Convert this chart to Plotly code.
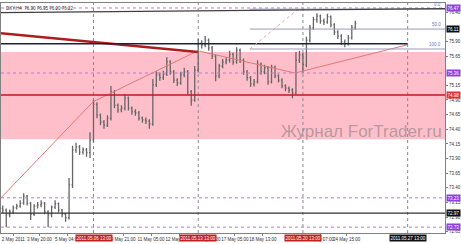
import plotly.graph_objects as go

# ---------------- data (DXY, H4, May 2011) ----------------
first_open = 73.05
close = [73.02, 72.94, 72.99, 73.06, 73.09, 73.14, 73.26, 73.14, 72.95, 73.09,
         73.11, 73.14, 72.99, 72.94, 73.07, 73.13, 73.02, 72.95, 72.89, 73.45,
         74.05, 74.10, 74.01, 74.05, 74.00, 74.22, 74.83, 74.64, 74.52, 74.47,
         74.59, 75.04, 74.81, 74.73, 74.76, 74.93, 74.76, 74.70, 74.68, 74.59,
         74.56, 74.54, 74.49, 75.16, 75.33, 75.28, 75.34, 75.55, 75.38, 75.24,
         75.19, 75.33, 75.38, 75.04, 74.90, 75.41, 75.87, 75.84, 75.92, 75.79,
         75.65, 75.31, 75.48, 75.55, 75.58, 75.68, 75.55, 75.75, 75.58, 75.38,
         75.28, 75.17, 75.21, 75.51, 75.38, 75.45, 75.21, 75.46, 75.31, 75.24,
         75.14, 75.10, 75.07, 75.02, 75.58, 75.67, 75.50, 75.92, 76.13, 76.27,
         76.33, 76.25, 76.23, 76.32, 76.18, 76.06, 75.99, 75.89, 75.86, 75.96,
         76.13, 76.21]
high = [73.10, 73.05, 73.03, 73.10, 73.13, 73.19, 73.31, 73.28, 73.16, 73.12,
        73.16, 73.19, 73.16, 73.02, 73.10, 73.19, 73.15, 73.04, 72.97, 73.57,
        74.12, 74.17, 74.13, 74.09, 74.08, 74.35, 74.90, 74.86, 74.67, 74.56,
        74.64, 75.14, 75.07, 74.84, 74.81, 75.00, 74.96, 74.79, 74.74, 74.71,
        74.62, 74.60, 74.57, 75.26, 75.39, 75.37, 75.40, 75.63, 75.58, 75.41,
        75.27, 75.38, 75.45, 75.41, 75.07, 75.48, 75.94, 75.92, 75.99, 75.95,
        75.82, 75.68, 75.52, 75.60, 75.63, 75.74, 75.71, 75.80, 75.78, 75.61,
        75.41, 75.31, 75.26, 75.58, 75.54, 75.50, 75.48, 75.50, 75.49, 75.34,
        75.27, 75.17, 75.13, 75.10, 75.72, 75.74, 75.70, 75.98, 76.18, 76.32,
        76.38, 76.36, 76.29, 76.37, 76.34, 76.21, 76.09, 76.02, 75.93, 76.01,
        76.18, 76.25]
low = [72.97, 72.73, 72.90, 72.96, 73.03, 73.06, 73.11, 73.10, 72.85, 72.92,
       73.05, 73.07, 72.95, 72.73, 72.90, 73.04, 72.98, 72.90, 72.82, 72.86,
       73.40, 74.00, 73.96, 73.97, 73.93, 73.91, 74.18, 74.59, 74.47, 74.41,
       74.44, 74.55, 74.76, 74.68, 74.69, 74.72, 74.72, 74.65, 74.63, 74.55,
       74.51, 74.49, 74.41, 74.46, 75.12, 75.23, 75.24, 75.31, 75.33, 75.19,
       75.14, 75.16, 75.29, 74.99, 74.80, 74.87, 75.37, 75.78, 75.80, 75.74,
       75.60, 75.22, 75.27, 75.44, 75.51, 75.54, 75.50, 75.52, 75.53, 75.33,
       75.23, 75.12, 75.13, 75.18, 75.33, 75.34, 75.16, 75.18, 75.27, 75.20,
       75.10, 75.05, 75.02, 74.93, 74.99, 75.53, 75.36, 75.46, 75.88, 76.10,
       76.22, 76.20, 76.18, 76.20, 76.14, 76.01, 75.94, 75.84, 75.80, 75.83,
       75.93, 76.10]
open_ = [first_open] + close[:-1]
bars = list(range(len(close)))

# price levels / objects
zone_top, zone_bottom = 75.72, 74.23
red_level = 74.985
dark_levels = [75.86, 72.97]
violet_levels = [76.47, 75.36, 73.23, 72.73]
red_trend_t = [-0.5, 55.9]
red_trend_p = [76.04, 75.72]
zigzag_t = [-0.5, 25.9, 55.9, 83.7, 115.8]
zigzag_p = [73.23, 74.87, 75.74, 75.36, 75.84]
top_trend_t = [-0.5, 126.7]
top_trend_p = [76.39, 76.46]
fib_t = [70.8, 84.6]
fib_p = [75.77, 76.45]
fib_names = ["0.0", "50.0", "100.0"]
fib_ratios = [0.0, 0.5, 1.0]
separators = [26, 56, 86, 116]
separator_labels = ["2011.05.06 13:00", "2011.05.13 13:00", "2011.05.20 13:00", "2011.05.27 13:00"]
time_ticks = [3.0, 10.5, 18.5, 34.5, 42.5, 50.5, 58.5, 66.5, 74.5, 91.0, 98.5]
time_labels = ["2 May 2011", "3 May 20:00", "5 May 04:00", "9 May 21:00", "11 May 05:00",
               "12 May 13:00", "13 May 21:00", "17 May 05:00", "18 May 13:00",
               "23 May 07:00", "24 May 15:00"]
price_ticks = [76.40, 75.90, 75.65, 75.15, 74.90, 74.65, 74.40,
               74.15, 73.90, 73.65, 73.40, 73.15, 72.90, 72.65]
x_range = [-0.5, 126.7]
y_range = [72.63, 76.555]

FONT = "Liberation Sans"
GRAY = "#666666"

fig = go.Figure()
fig.add_trace(go.Ohlc(
    x=bars, open=open_, high=high, low=low, close=close,
    increasing=dict(line=dict(color=GRAY, width=1.3)),
    decreasing=dict(line=dict(color=GRAY, width=1.3)),
    tickwidth=0.3, showlegend=False, hoverinfo="skip"))

shapes = []
# pink zone
shapes.append(dict(type="rect", xref="paper", x0=0, x1=1, yref="y", y0=zone_bottom, y1=zone_top,
                   fillcolor="#ffbfca", line=dict(width=0), layer="below"))
# separators
for s in separators:
    shapes.append(dict(type="line", xref="x", x0=s, x1=s, yref="paper", y0=0, y1=1,
                       line=dict(color="#8a8a8a", width=1, dash="dot"), layer="below"))
# violet dotted levels
for v in violet_levels:
    shapes.append(dict(type="line", xref="paper", x0=0, x1=1, yref="y", y0=v, y1=v,
                       line=dict(color="#b878e0", width=1, dash="dot"), layer="above"))
# dark levels
shapes.append(dict(type="line", xref="x", x0=x_range[0], x1=separators[3], yref="y",
                   y0=dark_levels[0], y1=dark_levels[0], line=dict(color="#20203a", width=1.5)))
shapes.append(dict(type="line", xref="paper", x0=0, x1=1, yref="y",
                   y0=dark_levels[1], y1=dark_levels[1], line=dict(color="#303030", width=1.2)))
# red level
shapes.append(dict(type="line", xref="paper", x0=0, x1=1, yref="y", y0=red_level, y1=red_level,
                   line=dict(color="#c01818", width=1.5)))
# fibonacci levels
for r in fib_ratios:
    lv = fib_p[1] - r * (fib_p[1] - fib_p[0])
    shapes.append(dict(type="line", xref="x", x0=fib_t[0], x1=x_range[1], yref="y", y0=lv, y1=lv,
                       line=dict(color="#9a9ab8", width=1)))
shapes.append(dict(type="line", xref="x", x0=fib_t[0], x1=fib_t[1], yref="y",
                   y0=fib_p[0], y1=fib_p[1], line=dict(color="#e8a0a8", width=1, dash="dot")))
# top trend line
shapes.append(dict(type="line", xref="x", x0=top_trend_t[0], x1=top_trend_t[1], yref="y",
                   y0=top_trend_p[0], y1=top_trend_p[1], line=dict(color="#404040", width=1.3)))
fig.update_layout(shapes=shapes)

# zigzag and red trend line as traces
fig.add_trace(go.Scatter(x=zigzag_t, y=zigzag_p, mode="lines",
                         line=dict(color="#e07878", width=1), showlegend=False, hoverinfo="skip"))
fig.add_trace(go.Scatter(x=red_trend_t, y=red_trend_p, mode="lines",
                         line=dict(color="#b01c1c", width=2.6), showlegend=False, hoverinfo="skip"))

ann = []
# right axis boxes
boxes = [(violet_levels[0], "#9040e0"), (fib_p[1] - 0.5 * (fib_p[1] - fib_p[0]), "#101010"),
         (violet_levels[1], "#9040e0"), (red_level, "#e03030"),
         (violet_levels[2], "#9040e0"), (dark_levels[1], "#101010"), (violet_levels[3], "#9040e0")]
for p, c in boxes:
    ann.append(dict(xref="paper", x=1, xanchor="left", xshift=1, yref="y", y=p,
                    text=f"{p:.2f}", showarrow=False, bgcolor=c, borderpad=0.5,
                    font=dict(family=FONT, size=4.5, color="white")))
# fib labels
for name, r in zip(fib_names, fib_ratios):
    lv = fib_p[1] - r * (fib_p[1] - fib_p[0])
    ann.append(dict(xref="paper", x=1, xanchor="right", xshift=-2, yref="y", y=lv, yanchor="bottom",
                    text=name, showarrow=False, font=dict(family=FONT, size=4.5, color="#7070c0")))
# separator labels
for s, lab in zip(separators, separator_labels):
    ann.append(dict(xref="x", x=s, yref="paper", y=0, yanchor="top", yshift=-1,
                    text=lab, showarrow=False, bgcolor="#101010" if s == separators[-1] else "#c02020",
                    borderpad=0.5, font=dict(family=FONT, size=4.5, color="white")))
# header
ann.append(dict(xref="paper", x=0, xanchor="left", xshift=3, yref="paper", y=1, yanchor="top", yshift=-1,
                text="DXY,H4  76.30 76.35 76.20 76.22", showarrow=False,
                font=dict(family=FONT, size=4.5, color="#303030")))
# watermark
ann.append(dict(xref="paper", x=0.813, xanchor="center", yref="paper", y=0.44, yanchor="middle",
                text="Журнал ForTrader.ru", showarrow=False,
                font=dict(family=FONT, size=17, color="rgba(120,120,120,0.55)")))
fig.update_layout(annotations=ann)

fig.update_layout(
    width=461, height=244,
    margin=dict(l=1, r=16, t=3, b=11),
    paper_bgcolor="white", plot_bgcolor="white",
    font=dict(family=FONT, size=4.5, color="#303030"),
    xaxis=dict(range=x_range, rangeslider=dict(visible=False), showgrid=False, zeroline=False,
               tickvals=time_ticks, ticktext=time_labels, tickfont=dict(size=4.5),
               tickangle=0, automargin=False, ticklabeloverflow="allow",
               ticks="outside", ticklen=2, tickcolor="#808080",
               showline=True, linecolor="#808080", linewidth=1, mirror=True),
    yaxis=dict(range=y_range, side="right", showgrid=False, zeroline=False, automargin=False,
               tickvals=price_ticks, ticktext=[f"{v:.2f}" for v in price_ticks],
               tickfont=dict(size=4.5), ticks="outside", ticklen=2, tickcolor="#808080",
               showline=True, linecolor="#808080", linewidth=1, mirror=True),
)

fig.write_html("out.html")
